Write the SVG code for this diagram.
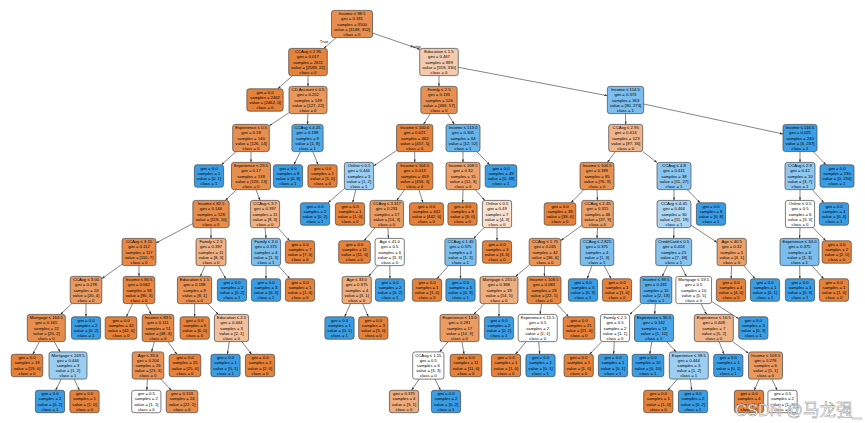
<svg xmlns="http://www.w3.org/2000/svg" width="865" height="423" viewBox="0 0 865 423">
<style>
.nd rect{stroke:#454545;stroke-width:0.7}
text{font-family:"Liberation Sans",Arial,Helvetica,sans-serif;font-size:4.24px;text-anchor:middle;fill:#000}
#edges line{stroke:#333;stroke-width:0.6;marker-end:url(#ah)}
.lbl{font-size:4.24px}
.wm{font-family:"Liberation Sans","Noto Sans CJK SC",sans-serif;font-size:16.5px;text-anchor:start;fill:#ffffff;fill-opacity:0.85;stroke:#8a8a8a;stroke-width:0.45}
</style>
<defs>
<marker id="ah" viewBox="0 0 10 7" refX="10" refY="3.5" markerWidth="3" markerHeight="2.1" markerUnits="userSpaceOnUse" orient="auto"><path d="M0,0L10,3.5L0,7z" fill="#333"/></marker>
</defs>
<rect width="865" height="423" fill="#ffffff"/>
<g id="edges">
<line x1="336.25" y1="37.6" x2="323.75" y2="48.4"/>
<line x1="372.5" y1="33" x2="420.2" y2="49.4"/>
<line x1="292.6" y1="75.6" x2="277.7" y2="88.8"/>
<line x1="308" y1="75.6" x2="308" y2="86.4"/>
<line x1="439" y1="75.6" x2="439" y2="86.4"/>
<line x1="458.3" y1="67.3" x2="607.35" y2="95.7"/>
<line x1="289" y1="112.7" x2="269.3" y2="125.8"/>
<line x1="307.9" y1="113.6" x2="307.5" y2="124.4"/>
<line x1="430.3" y1="113.6" x2="423.4" y2="124.4"/>
<line x1="447.6" y1="113.6" x2="454.4" y2="124.4"/>
<line x1="625.5" y1="113.6" x2="625.7" y2="124.4"/>
<line x1="643.65" y1="104" x2="783" y2="134"/>
<line x1="236" y1="151.6" x2="221.4" y2="164.8"/>
<line x1="251" y1="151.6" x2="251" y2="162.4"/>
<line x1="300.5" y1="151.6" x2="293.75" y2="164.8"/>
<line x1="312.9" y1="151.6" x2="318.1" y2="164.8"/>
<line x1="396.55" y1="150.4" x2="373.6" y2="166"/>
<line x1="414.7" y1="151.6" x2="414.7" y2="162.4"/>
<line x1="463" y1="151.6" x2="463" y2="162.4"/>
<line x1="476.6" y1="151.6" x2="489.8" y2="164.8"/>
<line x1="615.4" y1="151.6" x2="607.3" y2="162.4"/>
<line x1="642.7" y1="151.4" x2="657" y2="162.6"/>
<line x1="800" y1="151.6" x2="800" y2="162.4"/>
<line x1="813.2" y1="151.6" x2="826.1" y2="164.8"/>
<line x1="236.7" y1="189.6" x2="225.3" y2="200.4"/>
<line x1="256" y1="189.6" x2="260" y2="200.4"/>
<line x1="344.4" y1="188.6" x2="328" y2="202.8"/>
<line x1="355.8" y1="189.6" x2="352.65" y2="202.8"/>
<line x1="404.7" y1="189.6" x2="396.7" y2="200.4"/>
<line x1="418.9" y1="189.6" x2="423" y2="202.8"/>
<line x1="463" y1="189.6" x2="462.6" y2="202.8"/>
<line x1="475.2" y1="189.6" x2="484.8" y2="200.4"/>
<line x1="583.8" y1="189.6" x2="570.9" y2="202.8"/>
<line x1="597" y1="189.6" x2="597.5" y2="200.4"/>
<line x1="674" y1="189.6" x2="674" y2="200.4"/>
<line x1="687.2" y1="189.6" x2="700.1" y2="202.8"/>
<line x1="800" y1="189.6" x2="800" y2="200.4"/>
<line x1="812.2" y1="189.6" x2="824" y2="202.8"/>
<line x1="192.85" y1="223.6" x2="156" y2="243"/>
<line x1="211" y1="227.6" x2="211" y2="238.4"/>
<line x1="265" y1="227.6" x2="266" y2="238.4"/>
<line x1="277.5" y1="227.6" x2="289.7" y2="240.8"/>
<line x1="375.2" y1="227.6" x2="364" y2="240.8"/>
<line x1="387.8" y1="227.6" x2="388.6" y2="238.4"/>
<line x1="484" y1="227.6" x2="473.6" y2="238.4"/>
<line x1="497" y1="227.6" x2="497" y2="240.8"/>
<line x1="581.7" y1="225.4" x2="560.8" y2="240.6"/>
<line x1="597.5" y1="227.6" x2="597" y2="238.4"/>
<line x1="674" y1="227.6" x2="673.7" y2="238.4"/>
<line x1="691" y1="225.2" x2="717.1" y2="242.4"/>
<line x1="800" y1="227.6" x2="799.5" y2="238.4"/>
<line x1="813.1" y1="227.6" x2="825.9" y2="240.8"/>
<line x1="122.05" y1="264.2" x2="101.8" y2="278.7"/>
<line x1="139" y1="265.6" x2="139" y2="276.4"/>
<line x1="205.1" y1="265.6" x2="200.4" y2="276.4"/>
<line x1="218.5" y1="265.6" x2="225.8" y2="278.8"/>
<line x1="266" y1="265.6" x2="266" y2="278.8"/>
<line x1="278.2" y1="265.6" x2="290" y2="278.8"/>
<line x1="377.9" y1="265.6" x2="368.5" y2="276.4"/>
<line x1="389.8" y1="265.6" x2="390" y2="278.8"/>
<line x1="448.5" y1="265.6" x2="436.9" y2="278.8"/>
<line x1="460.5" y1="265.6" x2="460.5" y2="278.8"/>
<line x1="529.2" y1="265.05" x2="515.5" y2="276.4"/>
<line x1="544.6" y1="265.6" x2="544.4" y2="276.4"/>
<line x1="592" y1="265.6" x2="587.1" y2="278.8"/>
<line x1="604.2" y1="265.6" x2="611.1" y2="278.8"/>
<line x1="667.4" y1="265.6" x2="662.3" y2="276.4"/>
<line x1="680.9" y1="265.6" x2="686.5" y2="276.4"/>
<line x1="731.5" y1="265.6" x2="731.2" y2="278.8"/>
<line x1="743.6" y1="265.6" x2="755.2" y2="278.8"/>
<line x1="799.7" y1="265.6" x2="799.9" y2="278.8"/>
<line x1="811.8" y1="265.6" x2="823.8" y2="278.8"/>
<line x1="71.8" y1="303.6" x2="60.5" y2="314.4"/>
<line x1="86" y1="303.6" x2="86" y2="316.8"/>
<line x1="132.6" y1="303.6" x2="126.3" y2="316.8"/>
<line x1="145.8" y1="303.6" x2="151.2" y2="314.4"/>
<line x1="194.6" y1="303.6" x2="194.7" y2="316.8"/>
<line x1="207.7" y1="303.6" x2="218.3" y2="314.4"/>
<line x1="350.5" y1="303.6" x2="344.6" y2="316.8"/>
<line x1="362.6" y1="303.6" x2="368.4" y2="316.8"/>
<line x1="484.9" y1="303.6" x2="473.6" y2="314.4"/>
<line x1="499" y1="303.6" x2="499" y2="316.8"/>
<line x1="541.7" y1="303.6" x2="540" y2="314.4"/>
<line x1="556.5" y1="303.6" x2="568.7" y2="316.8"/>
<line x1="641.3" y1="303.6" x2="629.6" y2="314.6"/>
<line x1="655.3" y1="303.6" x2="654.7" y2="314.4"/>
<line x1="700.9" y1="303.6" x2="706.6" y2="314.4"/>
<line x1="711.55" y1="301.4" x2="738.7" y2="318.7"/>
<line x1="39.3" y1="341.6" x2="32.8" y2="354.3"/>
<line x1="54.2" y1="341.6" x2="60.1" y2="351.9"/>
<line x1="154.4" y1="341.6" x2="151.6" y2="351.9"/>
<line x1="167.8" y1="341.6" x2="176.9" y2="354.3"/>
<line x1="229.3" y1="341.6" x2="227.3" y2="354.3"/>
<line x1="241.8" y1="341.6" x2="251.5" y2="354.3"/>
<line x1="448.2" y1="341.6" x2="439.6" y2="351.9"/>
<line x1="461.9" y1="341.6" x2="464.1" y2="354.3"/>
<line x1="526.2" y1="341.6" x2="515.5" y2="354.3"/>
<line x1="538.7" y1="341.6" x2="539.7" y2="354.3"/>
<line x1="601.8" y1="341.6" x2="589.5" y2="354.3"/>
<line x1="614.3" y1="341.6" x2="613.6" y2="354.3"/>
<line x1="651.8" y1="341.6" x2="649.8" y2="354.3"/>
<line x1="666.6" y1="341.6" x2="676.2" y2="351.9"/>
<line x1="719.1" y1="341.6" x2="724" y2="354.3"/>
<line x1="732.55" y1="341.6" x2="748.5" y2="353.2"/>
<line x1="61.2" y1="379.1" x2="55.6" y2="390.3"/>
<line x1="74.2" y1="379.1" x2="79.4" y2="390.3"/>
<line x1="147.4" y1="379.1" x2="146.8" y2="390.3"/>
<line x1="160.8" y1="379.1" x2="171.4" y2="390.3"/>
<line x1="419.1" y1="379.1" x2="411.6" y2="390.3"/>
<line x1="435" y1="379.1" x2="440.5" y2="390.3"/>
<line x1="677.3" y1="379.1" x2="667.8" y2="390.3"/>
<line x1="690.4" y1="379.1" x2="691.7" y2="390.3"/>
<line x1="759.3" y1="379.1" x2="754.1" y2="390.3"/>
<line x1="771.9" y1="379.1" x2="777.2" y2="390.3"/>
<text class="lbl" x="324" y="42.8">True</text>
<text class="lbl" x="415.7" y="48">False</text>
</g>
<g id="nodes">
<g id="n0" class="nd" transform="translate(352,24)"><rect x="-20.5" y="-13.6" width="41" height="27.2" rx="2.5" fill="#e88f4f"/><text y="-8.6"><tspan x="0">Income ≤ 98.5</tspan><tspan x="0" dy="5.05">gini = 0.181</tspan><tspan x="0" dy="5.05">samples = 3500</tspan><tspan x="0" dy="5.05">value = [3148, 352]</tspan><tspan x="0" dy="5.05">class = 0</tspan></text></g>
<g id="n1" class="nd" transform="translate(308,62)"><rect x="-19.3" y="-13.6" width="38.6" height="27.2" rx="2.5" fill="#e5823b"/><text y="-8.6"><tspan x="0">CCAvg ≤ 2.95</tspan><tspan x="0" dy="5.05">gini = 0.017</tspan><tspan x="0" dy="5.05">samples = 2611</tspan><tspan x="0" dy="5.05">value = [2589, 22]</tspan><tspan x="0" dy="5.05">class = 0</tspan></text></g>
<g id="n2" class="nd" transform="translate(439,62)"><rect x="-19.3" y="-13.6" width="38.6" height="27.2" rx="2.5" fill="#f4cbae"/><text y="-8.6"><tspan x="0">Education ≤ 1.5</tspan><tspan x="0" dy="5.05">gini = 0.467</tspan><tspan x="0" dy="5.05">samples = 889</tspan><tspan x="0" dy="5.05">value = [559, 330]</tspan><tspan x="0" dy="5.05">class = 0</tspan></text></g>
<g id="n3" class="nd" transform="translate(265,100)"><rect x="-18.15" y="-11.2" width="36.3" height="22.4" rx="2.5" fill="#e58139"/><text y="-6.1"><tspan x="0">gini = 0.0</tspan><tspan x="0" dy="5.05">samples = 2462</tspan><tspan x="0" dy="5.05">value = [2462, 0]</tspan><tspan x="0" dy="5.05">class = 0</tspan></text></g>
<g id="n4" class="nd" transform="translate(308,100)"><rect x="-19" y="-13.6" width="38" height="27.2" rx="2.5" fill="#e9975b"/><text y="-8.6"><tspan x="0">CD Account ≤ 0.5</tspan><tspan x="0" dy="5.05">gini = 0.252</tspan><tspan x="0" dy="5.05">samples = 149</tspan><tspan x="0" dy="5.05">value = [127, 22]</tspan><tspan x="0" dy="5.05">class = 0</tspan></text></g>
<g id="n5" class="nd" transform="translate(439,100)"><rect x="-18.15" y="-13.6" width="36.3" height="27.2" rx="2.5" fill="#e89051"/><text y="-8.6"><tspan x="0">Family ≤ 2.5</tspan><tspan x="0" dy="5.05">gini = 0.193</tspan><tspan x="0" dy="5.05">samples = 526</tspan><tspan x="0" dy="5.05">value = [469, 57]</tspan><tspan x="0" dy="5.05">class = 0</tspan></text></g>
<g id="n6" class="nd" transform="translate(625.5,100)"><rect x="-18.15" y="-13.6" width="36.3" height="27.2" rx="2.5" fill="#7abdee"/><text y="-8.6"><tspan x="0">Income ≤ 114.5</tspan><tspan x="0" dy="5.05">gini = 0.373</tspan><tspan x="0" dy="5.05">samples = 363</tspan><tspan x="0" dy="5.05">value = [90, 273]</tspan><tspan x="0" dy="5.05">class = 1</tspan></text></g>
<g id="n7" class="nd" transform="translate(251,138)"><rect x="-18.3" y="-13.6" width="36.6" height="27.2" rx="2.5" fill="#e88f4f"/><text y="-8.6"><tspan x="0">Experience ≤ 0.5</tspan><tspan x="0" dy="5.05">gini = 0.18</tspan><tspan x="0" dy="5.05">samples = 140</tspan><tspan x="0" dy="5.05">value = [126, 14]</tspan><tspan x="0" dy="5.05">class = 0</tspan></text></g>
<g id="n8" class="nd" transform="translate(307.5,138)"><rect x="-15.6" y="-13.6" width="31.2" height="27.2" rx="2.5" fill="#52a9e8"/><text y="-8.6"><tspan x="0">CCAvg ≤ 4.25</tspan><tspan x="0" dy="5.05">gini = 0.198</tspan><tspan x="0" dy="5.05">samples = 9</tspan><tspan x="0" dy="5.05">value = [1, 8]</tspan><tspan x="0" dy="5.05">class = 1</tspan></text></g>
<g id="n9" class="nd" transform="translate(414.7,138)"><rect x="-18.15" y="-13.6" width="36.3" height="27.2" rx="2.5" fill="#e5823b"/><text y="-8.6"><tspan x="0">Income ≤ 100.0</tspan><tspan x="0" dy="5.05">gini = 0.021</tspan><tspan x="0" dy="5.05">samples = 462</tspan><tspan x="0" dy="5.05">value = [457, 5]</tspan><tspan x="0" dy="5.05">class = 0</tspan></text></g>
<g id="n10" class="nd" transform="translate(463,138)"><rect x="-17" y="-13.6" width="34" height="27.2" rx="2.5" fill="#67b4eb"/><text y="-8.6"><tspan x="0">Income ≤ 113.0</tspan><tspan x="0" dy="5.05">gini = 0.305</tspan><tspan x="0" dy="5.05">samples = 64</tspan><tspan x="0" dy="5.05">value = [12, 52]</tspan><tspan x="0" dy="5.05">class = 1</tspan></text></g>
<g id="n11" class="nd" transform="translate(625.7,138)"><rect x="-17" y="-13.6" width="34" height="27.2" rx="2.5" fill="#f0b58b"/><text y="-8.6"><tspan x="0">CCAvg ≤ 2.95</tspan><tspan x="0" dy="5.05">gini = 0.414</tspan><tspan x="0" dy="5.05">samples = 123</tspan><tspan x="0" dy="5.05">value = [87, 36]</tspan><tspan x="0" dy="5.05">class = 0</tspan></text></g>
<g id="n12" class="nd" transform="translate(800,138)"><rect x="-17" y="-13.6" width="34" height="27.2" rx="2.5" fill="#3c9ee5"/><text y="-8.6"><tspan x="0">Income ≤ 116.5</tspan><tspan x="0" dy="5.05">gini = 0.025</tspan><tspan x="0" dy="5.05">samples = 240</tspan><tspan x="0" dy="5.05">value = [3, 237]</tspan><tspan x="0" dy="5.05">class = 1</tspan></text></g>
<g id="n13" class="nd" transform="translate(209,176)"><rect x="-14.6" y="-11.2" width="29.2" height="22.4" rx="2.5" fill="#399de5"/><text y="-6.1"><tspan x="0">gini = 0.0</tspan><tspan x="0" dy="5.05">samples = 1</tspan><tspan x="0" dy="5.05">value = [0, 1]</tspan><tspan x="0" dy="5.05">class = 1</tspan></text></g>
<g id="n14" class="nd" transform="translate(251,176)"><rect x="-19.5" y="-13.6" width="39" height="27.2" rx="2.5" fill="#e88e4d"/><text y="-8.6"><tspan x="0">Experience ≤ 23.5</tspan><tspan x="0" dy="5.05">gini = 0.17</tspan><tspan x="0" dy="5.05">samples = 139</tspan><tspan x="0" dy="5.05">value = [126, 13]</tspan><tspan x="0" dy="5.05">class = 0</tspan></text></g>
<g id="n15" class="nd" transform="translate(288,176)"><rect x="-14.6" y="-11.2" width="29.2" height="22.4" rx="2.5" fill="#399de5"/><text y="-6.1"><tspan x="0">gini = 0.0</tspan><tspan x="0" dy="5.05">samples = 8</tspan><tspan x="0" dy="5.05">value = [0, 8]</tspan><tspan x="0" dy="5.05">class = 1</tspan></text></g>
<g id="n16" class="nd" transform="translate(322.5,176)"><rect x="-14.6" y="-11.2" width="29.2" height="22.4" rx="2.5" fill="#e58139"/><text y="-6.1"><tspan x="0">gini = 0.0</tspan><tspan x="0" dy="5.05">samples = 1</tspan><tspan x="0" dy="5.05">value = [1, 0]</tspan><tspan x="0" dy="5.05">class = 0</tspan></text></g>
<g id="n17" class="nd" transform="translate(359,176)"><rect x="-14.6" y="-13.6" width="29.2" height="27.2" rx="2.5" fill="#9ccef2"/><text y="-8.6"><tspan x="0">Online ≤ 0.5</tspan><tspan x="0" dy="5.05">gini = 0.444</tspan><tspan x="0" dy="5.05">samples = 3</tspan><tspan x="0" dy="5.05">value = [1, 2]</tspan><tspan x="0" dy="5.05">class = 1</tspan></text></g>
<g id="n18" class="nd" transform="translate(414.7,176)"><rect x="-18.15" y="-13.6" width="36.3" height="27.2" rx="2.5" fill="#e5823a"/><text y="-8.6"><tspan x="0">Income ≤ 104.5</tspan><tspan x="0" dy="5.05">gini = 0.013</tspan><tspan x="0" dy="5.05">samples = 459</tspan><tspan x="0" dy="5.05">value = [456, 3]</tspan><tspan x="0" dy="5.05">class = 0</tspan></text></g>
<g id="n19" class="nd" transform="translate(463,176)"><rect x="-17" y="-13.6" width="34" height="27.2" rx="2.5" fill="#eca06a"/><text y="-8.6"><tspan x="0">Income ≤ 108.5</tspan><tspan x="0" dy="5.05">gini = 0.32</tspan><tspan x="0" dy="5.05">samples = 15</tspan><tspan x="0" dy="5.05">value = [12, 3]</tspan><tspan x="0" dy="5.05">class = 0</tspan></text></g>
<g id="n20" class="nd" transform="translate(501,176)"><rect x="-15.8" y="-11.2" width="31.6" height="22.4" rx="2.5" fill="#399de5"/><text y="-6.1"><tspan x="0">gini = 0.0</tspan><tspan x="0" dy="5.05">samples = 49</tspan><tspan x="0" dy="5.05">value = [0, 49]</tspan><tspan x="0" dy="5.05">class = 1</tspan></text></g>
<g id="n21" class="nd" transform="translate(597,176)"><rect x="-17" y="-13.6" width="34" height="27.2" rx="2.5" fill="#e89050"/><text y="-8.6"><tspan x="0">Income ≤ 106.5</tspan><tspan x="0" dy="5.05">gini = 0.189</tspan><tspan x="0" dy="5.05">samples = 85</tspan><tspan x="0" dy="5.05">value = [76, 9]</tspan><tspan x="0" dy="5.05">class = 0</tspan></text></g>
<g id="n22" class="nd" transform="translate(674,176)"><rect x="-17" y="-13.6" width="34" height="27.2" rx="2.5" fill="#8ac5f0"/><text y="-8.6"><tspan x="0">CCAvg ≤ 4.8</tspan><tspan x="0" dy="5.05">gini = 0.411</tspan><tspan x="0" dy="5.05">samples = 38</tspan><tspan x="0" dy="5.05">value = [11, 27]</tspan><tspan x="0" dy="5.05">class = 1</tspan></text></g>
<g id="n23" class="nd" transform="translate(800,176)"><rect x="-15" y="-13.6" width="30" height="27.2" rx="2.5" fill="#8ec7f0"/><text y="-8.6"><tspan x="0">CCAvg ≤ 2.9</tspan><tspan x="0" dy="5.05">gini = 0.42</tspan><tspan x="0" dy="5.05">samples = 10</tspan><tspan x="0" dy="5.05">value = [3, 7]</tspan><tspan x="0" dy="5.05">class = 1</tspan></text></g>
<g id="n24" class="nd" transform="translate(837,176)"><rect x="-17" y="-11.2" width="34" height="22.4" rx="2.5" fill="#399de5"/><text y="-6.1"><tspan x="0">gini = 0.0</tspan><tspan x="0" dy="5.05">samples = 230</tspan><tspan x="0" dy="5.05">value = [0, 230]</tspan><tspan x="0" dy="5.05">class = 1</tspan></text></g>
<g id="n25" class="nd" transform="translate(211,214)"><rect x="-18.15" y="-13.6" width="36.3" height="27.2" rx="2.5" fill="#e78c4a"/><text y="-8.6"><tspan x="0">Income ≤ 82.5</tspan><tspan x="0" dy="5.05">gini = 0.144</tspan><tspan x="0" dy="5.05">samples = 128</tspan><tspan x="0" dy="5.05">value = [118, 10]</tspan><tspan x="0" dy="5.05">class = 0</tspan></text></g>
<g id="n26" class="nd" transform="translate(265,214)"><rect x="-14.6" y="-13.6" width="29.2" height="27.2" rx="2.5" fill="#efb083"/><text y="-8.6"><tspan x="0">CCAvg ≤ 3.7</tspan><tspan x="0" dy="5.05">gini = 0.397</tspan><tspan x="0" dy="5.05">samples = 11</tspan><tspan x="0" dy="5.05">value = [8, 3]</tspan><tspan x="0" dy="5.05">class = 0</tspan></text></g>
<g id="n27" class="nd" transform="translate(315,214)"><rect x="-14.6" y="-11.2" width="29.2" height="22.4" rx="2.5" fill="#399de5"/><text y="-6.1"><tspan x="0">gini = 0.0</tspan><tspan x="0" dy="5.05">samples = 2</tspan><tspan x="0" dy="5.05">value = [0, 2]</tspan><tspan x="0" dy="5.05">class = 1</tspan></text></g>
<g id="n28" class="nd" transform="translate(350,214)"><rect x="-14.6" y="-11.2" width="29.2" height="22.4" rx="2.5" fill="#e58139"/><text y="-6.1"><tspan x="0">gini = 0.0</tspan><tspan x="0" dy="5.05">samples = 1</tspan><tspan x="0" dy="5.05">value = [1, 0]</tspan><tspan x="0" dy="5.05">class = 0</tspan></text></g>
<g id="n29" class="nd" transform="translate(386.7,214)"><rect x="-16.75" y="-13.6" width="33.5" height="27.2" rx="2.5" fill="#eb9c63"/><text y="-8.6"><tspan x="0">CCAvg ≤ 3.317</tspan><tspan x="0" dy="5.05">gini = 0.291</tspan><tspan x="0" dy="5.05">samples = 17</tspan><tspan x="0" dy="5.05">value = [14, 3]</tspan><tspan x="0" dy="5.05">class = 0</tspan></text></g>
<g id="n30" class="nd" transform="translate(426.5,214)"><rect x="-16.95" y="-11.2" width="33.9" height="22.4" rx="2.5" fill="#e58139"/><text y="-6.1"><tspan x="0">gini = 0.0</tspan><tspan x="0" dy="5.05">samples = 442</tspan><tspan x="0" dy="5.05">value = [442, 0]</tspan><tspan x="0" dy="5.05">class = 0</tspan></text></g>
<g id="n31" class="nd" transform="translate(462.5,214)"><rect x="-14.6" y="-11.2" width="29.2" height="22.4" rx="2.5" fill="#e58139"/><text y="-6.1"><tspan x="0">gini = 0.0</tspan><tspan x="0" dy="5.05">samples = 8</tspan><tspan x="0" dy="5.05">value = [8, 0]</tspan><tspan x="0" dy="5.05">class = 0</tspan></text></g>
<g id="n32" class="nd" transform="translate(497,214)"><rect x="-14.6" y="-13.6" width="29.2" height="27.2" rx="2.5" fill="#f8e0ce"/><text y="-8.6"><tspan x="0">Online ≤ 0.5</tspan><tspan x="0" dy="5.05">gini = 0.49</tspan><tspan x="0" dy="5.05">samples = 7</tspan><tspan x="0" dy="5.05">value = [4, 3]</tspan><tspan x="0" dy="5.05">class = 0</tspan></text></g>
<g id="n33" class="nd" transform="translate(560,214)"><rect x="-15.8" y="-11.2" width="31.6" height="22.4" rx="2.5" fill="#e58139"/><text y="-6.1"><tspan x="0">gini = 0.0</tspan><tspan x="0" dy="5.05">samples = 39</tspan><tspan x="0" dy="5.05">value = [39, 0]</tspan><tspan x="0" dy="5.05">class = 0</tspan></text></g>
<g id="n34" class="nd" transform="translate(597.5,214)"><rect x="-15.8" y="-13.6" width="31.6" height="27.2" rx="2.5" fill="#eb9f69"/><text y="-8.6"><tspan x="0">CCAvg ≤ 2.45</tspan><tspan x="0" dy="5.05">gini = 0.315</tspan><tspan x="0" dy="5.05">samples = 46</tspan><tspan x="0" dy="5.05">value = [37, 9]</tspan><tspan x="0" dy="5.05">class = 0</tspan></text></g>
<g id="n35" class="nd" transform="translate(674,214)"><rect x="-16.95" y="-13.6" width="33.9" height="27.2" rx="2.5" fill="#acd6f4"/><text y="-8.6"><tspan x="0">CCAvg ≤ 4.45</tspan><tspan x="0" dy="5.05">gini = 0.464</tspan><tspan x="0" dy="5.05">samples = 30</tspan><tspan x="0" dy="5.05">value = [11, 19]</tspan><tspan x="0" dy="5.05">class = 1</tspan></text></g>
<g id="n36" class="nd" transform="translate(711,214)"><rect x="-14.6" y="-11.2" width="29.2" height="22.4" rx="2.5" fill="#399de5"/><text y="-6.1"><tspan x="0">gini = 0.0</tspan><tspan x="0" dy="5.05">samples = 8</tspan><tspan x="0" dy="5.05">value = [0, 8]</tspan><tspan x="0" dy="5.05">class = 1</tspan></text></g>
<g id="n37" class="nd" transform="translate(800,214)"><rect x="-14.6" y="-13.6" width="29.2" height="27.2" rx="2.5" fill="#ffffff"/><text y="-8.6"><tspan x="0">Online ≤ 0.5</tspan><tspan x="0" dy="5.05">gini = 0.5</tspan><tspan x="0" dy="5.05">samples = 6</tspan><tspan x="0" dy="5.05">value = [3, 3]</tspan><tspan x="0" dy="5.05">class = 0</tspan></text></g>
<g id="n38" class="nd" transform="translate(834,214)"><rect x="-14.6" y="-11.2" width="29.2" height="22.4" rx="2.5" fill="#399de5"/><text y="-6.1"><tspan x="0">gini = 0.0</tspan><tspan x="0" dy="5.05">samples = 4</tspan><tspan x="0" dy="5.05">value = [0, 4]</tspan><tspan x="0" dy="5.05">class = 1</tspan></text></g>
<g id="n39" class="nd" transform="translate(139,252)"><rect x="-16.95" y="-13.6" width="33.9" height="27.2" rx="2.5" fill="#e78946"/><text y="-8.6"><tspan x="0">CCAvg ≤ 3.15</tspan><tspan x="0" dy="5.05">gini = 0.112</tspan><tspan x="0" dy="5.05">samples = 117</tspan><tspan x="0" dy="5.05">value = [110, 7]</tspan><tspan x="0" dy="5.05">class = 0</tspan></text></g>
<g id="n40" class="nd" transform="translate(211,252)"><rect x="-15" y="-13.6" width="30" height="27.2" rx="2.5" fill="#efb083"/><text y="-8.6"><tspan x="0">Family ≤ 2.5</tspan><tspan x="0" dy="5.05">gini = 0.397</tspan><tspan x="0" dy="5.05">samples = 11</tspan><tspan x="0" dy="5.05">value = [8, 3]</tspan><tspan x="0" dy="5.05">class = 0</tspan></text></g>
<g id="n41" class="nd" transform="translate(266,252)"><rect x="-14.6" y="-13.6" width="29.2" height="27.2" rx="2.5" fill="#7bbeee"/><text y="-8.6"><tspan x="0">Family ≤ 3.0</tspan><tspan x="0" dy="5.05">gini = 0.375</tspan><tspan x="0" dy="5.05">samples = 4</tspan><tspan x="0" dy="5.05">value = [1, 3]</tspan><tspan x="0" dy="5.05">class = 1</tspan></text></g>
<g id="n42" class="nd" transform="translate(300,252)"><rect x="-14.6" y="-11.2" width="29.2" height="22.4" rx="2.5" fill="#e58139"/><text y="-6.1"><tspan x="0">gini = 0.0</tspan><tspan x="0" dy="5.05">samples = 7</tspan><tspan x="0" dy="5.05">value = [7, 0]</tspan><tspan x="0" dy="5.05">class = 0</tspan></text></g>
<g id="n43" class="nd" transform="translate(354.5,252)"><rect x="-15.8" y="-11.2" width="31.6" height="22.4" rx="2.5" fill="#e58139"/><text y="-6.1"><tspan x="0">gini = 0.0</tspan><tspan x="0" dy="5.05">samples = 11</tspan><tspan x="0" dy="5.05">value = [11, 0]</tspan><tspan x="0" dy="5.05">class = 0</tspan></text></g>
<g id="n44" class="nd" transform="translate(389.7,252)"><rect x="-14.6" y="-13.6" width="29.2" height="27.2" rx="2.5" fill="#ffffff"/><text y="-8.6"><tspan x="0">Age ≤ 41.0</tspan><tspan x="0" dy="5.05">gini = 0.5</tspan><tspan x="0" dy="5.05">samples = 6</tspan><tspan x="0" dy="5.05">value = [3, 3]</tspan><tspan x="0" dy="5.05">class = 0</tspan></text></g>
<g id="n45" class="nd" transform="translate(460.5,252)"><rect x="-15.6" y="-13.6" width="31.2" height="27.2" rx="2.5" fill="#7bbeee"/><text y="-8.6"><tspan x="0">CCAvg ≤ 1.45</tspan><tspan x="0" dy="5.05">gini = 0.375</tspan><tspan x="0" dy="5.05">samples = 4</tspan><tspan x="0" dy="5.05">value = [1, 3]</tspan><tspan x="0" dy="5.05">class = 1</tspan></text></g>
<g id="n46" class="nd" transform="translate(497,252)"><rect x="-14.6" y="-11.2" width="29.2" height="22.4" rx="2.5" fill="#e58139"/><text y="-6.1"><tspan x="0">gini = 0.0</tspan><tspan x="0" dy="5.05">samples = 3</tspan><tspan x="0" dy="5.05">value = [3, 0]</tspan><tspan x="0" dy="5.05">class = 0</tspan></text></g>
<g id="n47" class="nd" transform="translate(545,252)"><rect x="-15.8" y="-13.6" width="31.6" height="27.2" rx="2.5" fill="#e9965a"/><text y="-8.6"><tspan x="0">CCAvg ≤ 1.75</tspan><tspan x="0" dy="5.05">gini = 0.245</tspan><tspan x="0" dy="5.05">samples = 42</tspan><tspan x="0" dy="5.05">value = [36, 6]</tspan><tspan x="0" dy="5.05">class = 0</tspan></text></g>
<g id="n48" class="nd" transform="translate(597,252)"><rect x="-16.75" y="-13.6" width="33.5" height="27.2" rx="2.5" fill="#7bbeee"/><text y="-8.6"><tspan x="0">CCAvg ≤ 2.825</tspan><tspan x="0" dy="5.05">gini = 0.375</tspan><tspan x="0" dy="5.05">samples = 4</tspan><tspan x="0" dy="5.05">value = [1, 3]</tspan><tspan x="0" dy="5.05">class = 1</tspan></text></g>
<g id="n49" class="nd" transform="translate(673.7,252)"><rect x="-17.95" y="-13.6" width="35.9" height="27.2" rx="2.5" fill="#86c3ef"/><text y="-8.6"><tspan x="0">CreditCard ≤ 0.5</tspan><tspan x="0" dy="5.05">gini = 0.403</tspan><tspan x="0" dy="5.05">samples = 25</tspan><tspan x="0" dy="5.05">value = [7, 18]</tspan><tspan x="0" dy="5.05">class = 1</tspan></text></g>
<g id="n50" class="nd" transform="translate(731.7,252)"><rect x="-14.6" y="-13.6" width="29.2" height="27.2" rx="2.5" fill="#eca06a"/><text y="-8.6"><tspan x="0">Age ≤ 40.5</tspan><tspan x="0" dy="5.05">gini = 0.32</tspan><tspan x="0" dy="5.05">samples = 5</tspan><tspan x="0" dy="5.05">value = [4, 1]</tspan><tspan x="0" dy="5.05">class = 0</tspan></text></g>
<g id="n51" class="nd" transform="translate(799.5,252)"><rect x="-19.5" y="-13.6" width="39" height="27.2" rx="2.5" fill="#7bbeee"/><text y="-8.6"><tspan x="0">Experience ≤ 34.0</tspan><tspan x="0" dy="5.05">gini = 0.375</tspan><tspan x="0" dy="5.05">samples = 4</tspan><tspan x="0" dy="5.05">value = [1, 3]</tspan><tspan x="0" dy="5.05">class = 1</tspan></text></g>
<g id="n52" class="nd" transform="translate(836.7,252)"><rect x="-14.6" y="-11.2" width="29.2" height="22.4" rx="2.5" fill="#e58139"/><text y="-6.1"><tspan x="0">gini = 0.0</tspan><tspan x="0" dy="5.05">samples = 2</tspan><tspan x="0" dy="5.05">value = [2, 0]</tspan><tspan x="0" dy="5.05">class = 0</tspan></text></g>
<g id="n53" class="nd" transform="translate(86,290)"><rect x="-15.8" y="-13.6" width="31.6" height="27.2" rx="2.5" fill="#ea9a61"/><text y="-8.6"><tspan x="0">CCAvg ≤ 3.05</tspan><tspan x="0" dy="5.05">gini = 0.278</tspan><tspan x="0" dy="5.05">samples = 24</tspan><tspan x="0" dy="5.05">value = [20, 4]</tspan><tspan x="0" dy="5.05">class = 0</tspan></text></g>
<g id="n54" class="nd" transform="translate(139,290)"><rect x="-15.8" y="-13.6" width="31.6" height="27.2" rx="2.5" fill="#e68540"/><text y="-8.6"><tspan x="0">Income ≤ 80.5</tspan><tspan x="0" dy="5.05">gini = 0.062</tspan><tspan x="0" dy="5.05">samples = 93</tspan><tspan x="0" dy="5.05">value = [90, 3]</tspan><tspan x="0" dy="5.05">class = 0</tspan></text></g>
<g id="n55" class="nd" transform="translate(194.5,290)"><rect x="-17.1" y="-13.6" width="34.2" height="27.2" rx="2.5" fill="#e89152"/><text y="-8.6"><tspan x="0">Education ≤ 1.5</tspan><tspan x="0" dy="5.05">gini = 0.198</tspan><tspan x="0" dy="5.05">samples = 9</tspan><tspan x="0" dy="5.05">value = [8, 1]</tspan><tspan x="0" dy="5.05">class = 0</tspan></text></g>
<g id="n56" class="nd" transform="translate(232,290)"><rect x="-14.6" y="-11.2" width="29.2" height="22.4" rx="2.5" fill="#399de5"/><text y="-6.1"><tspan x="0">gini = 0.0</tspan><tspan x="0" dy="5.05">samples = 2</tspan><tspan x="0" dy="5.05">value = [0, 2]</tspan><tspan x="0" dy="5.05">class = 1</tspan></text></g>
<g id="n57" class="nd" transform="translate(266,290)"><rect x="-14.6" y="-11.2" width="29.2" height="22.4" rx="2.5" fill="#399de5"/><text y="-6.1"><tspan x="0">gini = 0.0</tspan><tspan x="0" dy="5.05">samples = 3</tspan><tspan x="0" dy="5.05">value = [0, 3]</tspan><tspan x="0" dy="5.05">class = 1</tspan></text></g>
<g id="n58" class="nd" transform="translate(300,290)"><rect x="-14.6" y="-11.2" width="29.2" height="22.4" rx="2.5" fill="#e58139"/><text y="-6.1"><tspan x="0">gini = 0.0</tspan><tspan x="0" dy="5.05">samples = 1</tspan><tspan x="0" dy="5.05">value = [1, 0]</tspan><tspan x="0" dy="5.05">class = 0</tspan></text></g>
<g id="n59" class="nd" transform="translate(356.7,290)"><rect x="-14.6" y="-13.6" width="29.2" height="27.2" rx="2.5" fill="#eeab7b"/><text y="-8.6"><tspan x="0">Age ≤ 33.0</tspan><tspan x="0" dy="5.05">gini = 0.375</tspan><tspan x="0" dy="5.05">samples = 4</tspan><tspan x="0" dy="5.05">value = [3, 1]</tspan><tspan x="0" dy="5.05">class = 0</tspan></text></g>
<g id="n60" class="nd" transform="translate(390,290)"><rect x="-14.6" y="-11.2" width="29.2" height="22.4" rx="2.5" fill="#399de5"/><text y="-6.1"><tspan x="0">gini = 0.0</tspan><tspan x="0" dy="5.05">samples = 2</tspan><tspan x="0" dy="5.05">value = [0, 2]</tspan><tspan x="0" dy="5.05">class = 1</tspan></text></g>
<g id="n61" class="nd" transform="translate(427,290)"><rect x="-14.6" y="-11.2" width="29.2" height="22.4" rx="2.5" fill="#e58139"/><text y="-6.1"><tspan x="0">gini = 0.0</tspan><tspan x="0" dy="5.05">samples = 1</tspan><tspan x="0" dy="5.05">value = [1, 0]</tspan><tspan x="0" dy="5.05">class = 0</tspan></text></g>
<g id="n62" class="nd" transform="translate(460.5,290)"><rect x="-14.6" y="-11.2" width="29.2" height="22.4" rx="2.5" fill="#399de5"/><text y="-6.1"><tspan x="0">gini = 0.0</tspan><tspan x="0" dy="5.05">samples = 3</tspan><tspan x="0" dy="5.05">value = [0, 3]</tspan><tspan x="0" dy="5.05">class = 1</tspan></text></g>
<g id="n63" class="nd" transform="translate(499,290)"><rect x="-19" y="-13.6" width="38" height="27.2" rx="2.5" fill="#eeae80"/><text y="-8.6"><tspan x="0">Mortgage ≤ 231.0</tspan><tspan x="0" dy="5.05">gini = 0.368</tspan><tspan x="0" dy="5.05">samples = 19</tspan><tspan x="0" dy="5.05">value = [14, 5]</tspan><tspan x="0" dy="5.05">class = 0</tspan></text></g>
<g id="n64" class="nd" transform="translate(544,290)"><rect x="-17" y="-13.6" width="34" height="27.2" rx="2.5" fill="#e68742"/><text y="-8.6"><tspan x="0">Income ≤ 108.5</tspan><tspan x="0" dy="5.05">gini = 0.083</tspan><tspan x="0" dy="5.05">samples = 23</tspan><tspan x="0" dy="5.05">value = [22, 1]</tspan><tspan x="0" dy="5.05">class = 0</tspan></text></g>
<g id="n65" class="nd" transform="translate(583,290)"><rect x="-14.6" y="-11.2" width="29.2" height="22.4" rx="2.5" fill="#399de5"/><text y="-6.1"><tspan x="0">gini = 0.0</tspan><tspan x="0" dy="5.05">samples = 3</tspan><tspan x="0" dy="5.05">value = [0, 3]</tspan><tspan x="0" dy="5.05">class = 1</tspan></text></g>
<g id="n66" class="nd" transform="translate(617,290)"><rect x="-14.6" y="-11.2" width="29.2" height="22.4" rx="2.5" fill="#e58139"/><text y="-6.1"><tspan x="0">gini = 0.0</tspan><tspan x="0" dy="5.05">samples = 1</tspan><tspan x="0" dy="5.05">value = [1, 0]</tspan><tspan x="0" dy="5.05">class = 0</tspan></text></g>
<g id="n67" class="nd" transform="translate(656,290)"><rect x="-15.8" y="-13.6" width="31.6" height="27.2" rx="2.5" fill="#57ace9"/><text y="-8.6"><tspan x="0">Income ≤ 99.5</tspan><tspan x="0" dy="5.05">gini = 0.231</tspan><tspan x="0" dy="5.05">samples = 15</tspan><tspan x="0" dy="5.05">value = [2, 13]</tspan><tspan x="0" dy="5.05">class = 1</tspan></text></g>
<g id="n68" class="nd" transform="translate(693.7,290)"><rect x="-17.85" y="-13.6" width="35.7" height="27.2" rx="2.5" fill="#ffffff"/><text y="-8.6"><tspan x="0">Mortgage ≤ 59.5</tspan><tspan x="0" dy="5.05">gini = 0.5</tspan><tspan x="0" dy="5.05">samples = 10</tspan><tspan x="0" dy="5.05">value = [5, 5]</tspan><tspan x="0" dy="5.05">class = 0</tspan></text></g>
<g id="n69" class="nd" transform="translate(731,290)"><rect x="-14.6" y="-11.2" width="29.2" height="22.4" rx="2.5" fill="#e58139"/><text y="-6.1"><tspan x="0">gini = 0.0</tspan><tspan x="0" dy="5.05">samples = 4</tspan><tspan x="0" dy="5.05">value = [4, 0]</tspan><tspan x="0" dy="5.05">class = 0</tspan></text></g>
<g id="n70" class="nd" transform="translate(765,290)"><rect x="-14.6" y="-11.2" width="29.2" height="22.4" rx="2.5" fill="#399de5"/><text y="-6.1"><tspan x="0">gini = 0.0</tspan><tspan x="0" dy="5.05">samples = 1</tspan><tspan x="0" dy="5.05">value = [0, 1]</tspan><tspan x="0" dy="5.05">class = 1</tspan></text></g>
<g id="n71" class="nd" transform="translate(800,290)"><rect x="-14.6" y="-11.2" width="29.2" height="22.4" rx="2.5" fill="#399de5"/><text y="-6.1"><tspan x="0">gini = 0.0</tspan><tspan x="0" dy="5.05">samples = 3</tspan><tspan x="0" dy="5.05">value = [0, 3]</tspan><tspan x="0" dy="5.05">class = 1</tspan></text></g>
<g id="n72" class="nd" transform="translate(834,290)"><rect x="-14.6" y="-11.2" width="29.2" height="22.4" rx="2.5" fill="#e58139"/><text y="-6.1"><tspan x="0">gini = 0.0</tspan><tspan x="0" dy="5.05">samples = 1</tspan><tspan x="0" dy="5.05">value = [1, 0]</tspan><tspan x="0" dy="5.05">class = 0</tspan></text></g>
<g id="n73" class="nd" transform="translate(46.3,328)"><rect x="-19" y="-13.6" width="38" height="27.2" rx="2.5" fill="#e88e4d"/><text y="-8.6"><tspan x="0">Mortgage ≤ 164.5</tspan><tspan x="0" dy="5.05">gini = 0.165</tspan><tspan x="0" dy="5.05">samples = 22</tspan><tspan x="0" dy="5.05">value = [20, 2]</tspan><tspan x="0" dy="5.05">class = 0</tspan></text></g>
<g id="n74" class="nd" transform="translate(86,328)"><rect x="-14.6" y="-11.2" width="29.2" height="22.4" rx="2.5" fill="#399de5"/><text y="-6.1"><tspan x="0">gini = 0.0</tspan><tspan x="0" dy="5.05">samples = 2</tspan><tspan x="0" dy="5.05">value = [0, 2]</tspan><tspan x="0" dy="5.05">class = 1</tspan></text></g>
<g id="n75" class="nd" transform="translate(121,328)"><rect x="-15.8" y="-11.2" width="31.6" height="22.4" rx="2.5" fill="#e58139"/><text y="-6.1"><tspan x="0">gini = 0.0</tspan><tspan x="0" dy="5.05">samples = 42</tspan><tspan x="0" dy="5.05">value = [42, 0]</tspan><tspan x="0" dy="5.05">class = 0</tspan></text></g>
<g id="n76" class="nd" transform="translate(158,328)"><rect x="-15.8" y="-13.6" width="31.6" height="27.2" rx="2.5" fill="#e78945"/><text y="-8.6"><tspan x="0">Income ≤ 83.5</tspan><tspan x="0" dy="5.05">gini = 0.111</tspan><tspan x="0" dy="5.05">samples = 51</tspan><tspan x="0" dy="5.05">value = [48, 3]</tspan><tspan x="0" dy="5.05">class = 0</tspan></text></g>
<g id="n77" class="nd" transform="translate(194.7,328)"><rect x="-14.6" y="-11.2" width="29.2" height="22.4" rx="2.5" fill="#e58139"/><text y="-6.1"><tspan x="0">gini = 0.0</tspan><tspan x="0" dy="5.05">samples = 6</tspan><tspan x="0" dy="5.05">value = [6, 0]</tspan><tspan x="0" dy="5.05">class = 0</tspan></text></g>
<g id="n78" class="nd" transform="translate(231.5,328)"><rect x="-17.1" y="-13.6" width="34.2" height="27.2" rx="2.5" fill="#f2c09c"/><text y="-8.6"><tspan x="0">Education ≤ 2.5</tspan><tspan x="0" dy="5.05">gini = 0.444</tspan><tspan x="0" dy="5.05">samples = 3</tspan><tspan x="0" dy="5.05">value = [2, 1]</tspan><tspan x="0" dy="5.05">class = 0</tspan></text></g>
<g id="n79" class="nd" transform="translate(339.5,328)"><rect x="-14.6" y="-11.2" width="29.2" height="22.4" rx="2.5" fill="#399de5"/><text y="-6.1"><tspan x="0">gini = 0.0</tspan><tspan x="0" dy="5.05">samples = 1</tspan><tspan x="0" dy="5.05">value = [0, 1]</tspan><tspan x="0" dy="5.05">class = 1</tspan></text></g>
<g id="n80" class="nd" transform="translate(373.3,328)"><rect x="-14.6" y="-11.2" width="29.2" height="22.4" rx="2.5" fill="#e58139"/><text y="-6.1"><tspan x="0">gini = 0.0</tspan><tspan x="0" dy="5.05">samples = 3</tspan><tspan x="0" dy="5.05">value = [3, 0]</tspan><tspan x="0" dy="5.05">class = 0</tspan></text></g>
<g id="n81" class="nd" transform="translate(459.5,328)"><rect x="-19.5" y="-13.6" width="39" height="27.2" rx="2.5" fill="#eb9c63"/><text y="-8.6"><tspan x="0">Experience ≤ 13.0</tspan><tspan x="0" dy="5.05">gini = 0.291</tspan><tspan x="0" dy="5.05">samples = 17</tspan><tspan x="0" dy="5.05">value = [14, 3]</tspan><tspan x="0" dy="5.05">class = 0</tspan></text></g>
<g id="n82" class="nd" transform="translate(499,328)"><rect x="-14.6" y="-11.2" width="29.2" height="22.4" rx="2.5" fill="#399de5"/><text y="-6.1"><tspan x="0">gini = 0.0</tspan><tspan x="0" dy="5.05">samples = 2</tspan><tspan x="0" dy="5.05">value = [0, 2]</tspan><tspan x="0" dy="5.05">class = 1</tspan></text></g>
<g id="n83" class="nd" transform="translate(537.7,328)"><rect x="-19.5" y="-13.6" width="39" height="27.2" rx="2.5" fill="#ffffff"/><text y="-8.6"><tspan x="0">Experience ≤ 15.5</tspan><tspan x="0" dy="5.05">gini = 0.5</tspan><tspan x="0" dy="5.05">samples = 2</tspan><tspan x="0" dy="5.05">value = [1, 1]</tspan><tspan x="0" dy="5.05">class = 0</tspan></text></g>
<g id="n84" class="nd" transform="translate(579,328)"><rect x="-15.8" y="-11.2" width="31.6" height="22.4" rx="2.5" fill="#e58139"/><text y="-6.1"><tspan x="0">gini = 0.0</tspan><tspan x="0" dy="5.05">samples = 21</tspan><tspan x="0" dy="5.05">value = [21, 0]</tspan><tspan x="0" dy="5.05">class = 0</tspan></text></g>
<g id="n85" class="nd" transform="translate(615,328)"><rect x="-14.6" y="-13.6" width="29.2" height="27.2" rx="2.5" fill="#ffffff"/><text y="-8.6"><tspan x="0">Family ≤ 2.5</tspan><tspan x="0" dy="5.05">gini = 0.5</tspan><tspan x="0" dy="5.05">samples = 2</tspan><tspan x="0" dy="5.05">value = [1, 1]</tspan><tspan x="0" dy="5.05">class = 0</tspan></text></g>
<g id="n86" class="nd" transform="translate(654,328)"><rect x="-19.5" y="-13.6" width="39" height="27.2" rx="2.5" fill="#49a5e7"/><text y="-8.6"><tspan x="0">Experience ≤ 36.5</tspan><tspan x="0" dy="5.05">gini = 0.142</tspan><tspan x="0" dy="5.05">samples = 13</tspan><tspan x="0" dy="5.05">value = [1, 12]</tspan><tspan x="0" dy="5.05">class = 1</tspan></text></g>
<g id="n87" class="nd" transform="translate(713.8,328)"><rect x="-19.5" y="-13.6" width="39" height="27.2" rx="2.5" fill="#efb388"/><text y="-8.6"><tspan x="0">Experience ≤ 10.5</tspan><tspan x="0" dy="5.05">gini = 0.408</tspan><tspan x="0" dy="5.05">samples = 7</tspan><tspan x="0" dy="5.05">value = [5, 2]</tspan><tspan x="0" dy="5.05">class = 0</tspan></text></g>
<g id="n88" class="nd" transform="translate(753.3,328)"><rect x="-14.6" y="-11.2" width="29.2" height="22.4" rx="2.5" fill="#399de5"/><text y="-6.1"><tspan x="0">gini = 0.0</tspan><tspan x="0" dy="5.05">samples = 3</tspan><tspan x="0" dy="5.05">value = [0, 3]</tspan><tspan x="0" dy="5.05">class = 1</tspan></text></g>
<g id="n89" class="nd" transform="translate(27,365.5)"><rect x="-15.8" y="-11.2" width="31.6" height="22.4" rx="2.5" fill="#e58139"/><text y="-6.1"><tspan x="0">gini = 0.0</tspan><tspan x="0" dy="5.05">samples = 19</tspan><tspan x="0" dy="5.05">value = [19, 0]</tspan><tspan x="0" dy="5.05">class = 0</tspan></text></g>
<g id="n90" class="nd" transform="translate(68,365.5)"><rect x="-19" y="-13.6" width="38" height="27.2" rx="2.5" fill="#9ccef2"/><text y="-8.6"><tspan x="0">Mortgage ≤ 249.5</tspan><tspan x="0" dy="5.05">gini = 0.444</tspan><tspan x="0" dy="5.05">samples = 3</tspan><tspan x="0" dy="5.05">value = [1, 2]</tspan><tspan x="0" dy="5.05">class = 1</tspan></text></g>
<g id="n91" class="nd" transform="translate(148,365.5)"><rect x="-15.8" y="-13.6" width="31.6" height="27.2" rx="2.5" fill="#e89153"/><text y="-8.6"><tspan x="0">Age ≤ 33.0</tspan><tspan x="0" dy="5.05">gini = 0.204</tspan><tspan x="0" dy="5.05">samples = 26</tspan><tspan x="0" dy="5.05">value = [23, 3]</tspan><tspan x="0" dy="5.05">class = 0</tspan></text></g>
<g id="n92" class="nd" transform="translate(185,365.5)"><rect x="-15.8" y="-11.2" width="31.6" height="22.4" rx="2.5" fill="#e58139"/><text y="-6.1"><tspan x="0">gini = 0.0</tspan><tspan x="0" dy="5.05">samples = 25</tspan><tspan x="0" dy="5.05">value = [25, 0]</tspan><tspan x="0" dy="5.05">class = 0</tspan></text></g>
<g id="n93" class="nd" transform="translate(225.5,365.5)"><rect x="-14.6" y="-11.2" width="29.2" height="22.4" rx="2.5" fill="#399de5"/><text y="-6.1"><tspan x="0">gini = 0.0</tspan><tspan x="0" dy="5.05">samples = 1</tspan><tspan x="0" dy="5.05">value = [0, 1]</tspan><tspan x="0" dy="5.05">class = 1</tspan></text></g>
<g id="n94" class="nd" transform="translate(260,365.5)"><rect x="-14.6" y="-11.2" width="29.2" height="22.4" rx="2.5" fill="#e58139"/><text y="-6.1"><tspan x="0">gini = 0.0</tspan><tspan x="0" dy="5.05">samples = 2</tspan><tspan x="0" dy="5.05">value = [2, 0]</tspan><tspan x="0" dy="5.05">class = 0</tspan></text></g>
<g id="n95" class="nd" transform="translate(428.3,365.5)"><rect x="-15.6" y="-13.6" width="31.2" height="27.2" rx="2.5" fill="#ffffff"/><text y="-8.6"><tspan x="0">CCAvg ≤ 1.55</tspan><tspan x="0" dy="5.05">gini = 0.5</tspan><tspan x="0" dy="5.05">samples = 6</tspan><tspan x="0" dy="5.05">value = [3, 3]</tspan><tspan x="0" dy="5.05">class = 0</tspan></text></g>
<g id="n96" class="nd" transform="translate(466,365.5)"><rect x="-15.8" y="-11.2" width="31.6" height="22.4" rx="2.5" fill="#e58139"/><text y="-6.1"><tspan x="0">gini = 0.0</tspan><tspan x="0" dy="5.05">samples = 11</tspan><tspan x="0" dy="5.05">value = [11, 0]</tspan><tspan x="0" dy="5.05">class = 0</tspan></text></g>
<g id="n97" class="nd" transform="translate(506,365.5)"><rect x="-14.6" y="-11.2" width="29.2" height="22.4" rx="2.5" fill="#e58139"/><text y="-6.1"><tspan x="0">gini = 0.0</tspan><tspan x="0" dy="5.05">samples = 1</tspan><tspan x="0" dy="5.05">value = [1, 0]</tspan><tspan x="0" dy="5.05">class = 0</tspan></text></g>
<g id="n98" class="nd" transform="translate(540.5,365.5)"><rect x="-14.6" y="-11.2" width="29.2" height="22.4" rx="2.5" fill="#399de5"/><text y="-6.1"><tspan x="0">gini = 0.0</tspan><tspan x="0" dy="5.05">samples = 1</tspan><tspan x="0" dy="5.05">value = [0, 1]</tspan><tspan x="0" dy="5.05">class = 1</tspan></text></g>
<g id="n99" class="nd" transform="translate(578.7,365.5)"><rect x="-14.6" y="-11.2" width="29.2" height="22.4" rx="2.5" fill="#e58139"/><text y="-6.1"><tspan x="0">gini = 0.0</tspan><tspan x="0" dy="5.05">samples = 1</tspan><tspan x="0" dy="5.05">value = [1, 0]</tspan><tspan x="0" dy="5.05">class = 0</tspan></text></g>
<g id="n100" class="nd" transform="translate(613,365.5)"><rect x="-14.6" y="-11.2" width="29.2" height="22.4" rx="2.5" fill="#399de5"/><text y="-6.1"><tspan x="0">gini = 0.0</tspan><tspan x="0" dy="5.05">samples = 1</tspan><tspan x="0" dy="5.05">value = [0, 1]</tspan><tspan x="0" dy="5.05">class = 1</tspan></text></g>
<g id="n101" class="nd" transform="translate(648,365.5)"><rect x="-15.8" y="-11.2" width="31.6" height="22.4" rx="2.5" fill="#399de5"/><text y="-6.1"><tspan x="0">gini = 0.0</tspan><tspan x="0" dy="5.05">samples = 10</tspan><tspan x="0" dy="5.05">value = [0, 10]</tspan><tspan x="0" dy="5.05">class = 1</tspan></text></g>
<g id="n102" class="nd" transform="translate(688.8,365.5)"><rect x="-19.5" y="-13.6" width="39" height="27.2" rx="2.5" fill="#9ccef2"/><text y="-8.6"><tspan x="0">Experience ≤ 38.5</tspan><tspan x="0" dy="5.05">gini = 0.444</tspan><tspan x="0" dy="5.05">samples = 3</tspan><tspan x="0" dy="5.05">value = [1, 2]</tspan><tspan x="0" dy="5.05">class = 1</tspan></text></g>
<g id="n103" class="nd" transform="translate(728.3,365.5)"><rect x="-14.6" y="-11.2" width="29.2" height="22.4" rx="2.5" fill="#399de5"/><text y="-6.1"><tspan x="0">gini = 0.0</tspan><tspan x="0" dy="5.05">samples = 1</tspan><tspan x="0" dy="5.05">value = [0, 1]</tspan><tspan x="0" dy="5.05">class = 1</tspan></text></g>
<g id="n104" class="nd" transform="translate(765.5,365.5)"><rect x="-17" y="-13.6" width="34" height="27.2" rx="2.5" fill="#ea9a61"/><text y="-8.6"><tspan x="0">Income ≤ 109.5</tspan><tspan x="0" dy="5.05">gini = 0.278</tspan><tspan x="0" dy="5.05">samples = 6</tspan><tspan x="0" dy="5.05">value = [5, 1]</tspan><tspan x="0" dy="5.05">class = 0</tspan></text></g>
<g id="n105" class="nd" transform="translate(50,401.5)"><rect x="-14.6" y="-11.2" width="29.2" height="22.4" rx="2.5" fill="#399de5"/><text y="-6.1"><tspan x="0">gini = 0.0</tspan><tspan x="0" dy="5.05">samples = 2</tspan><tspan x="0" dy="5.05">value = [0, 2]</tspan><tspan x="0" dy="5.05">class = 1</tspan></text></g>
<g id="n106" class="nd" transform="translate(84.5,401.5)"><rect x="-14.6" y="-11.2" width="29.2" height="22.4" rx="2.5" fill="#e58139"/><text y="-6.1"><tspan x="0">gini = 0.0</tspan><tspan x="0" dy="5.05">samples = 1</tspan><tspan x="0" dy="5.05">value = [1, 0]</tspan><tspan x="0" dy="5.05">class = 0</tspan></text></g>
<g id="n107" class="nd" transform="translate(146.3,401.5)"><rect x="-14.6" y="-11.2" width="29.2" height="22.4" rx="2.5" fill="#ffffff"/><text y="-6.1"><tspan x="0">gini = 0.5</tspan><tspan x="0" dy="5.05">samples = 2</tspan><tspan x="0" dy="5.05">value = [1, 1]</tspan><tspan x="0" dy="5.05">class = 0</tspan></text></g>
<g id="n108" class="nd" transform="translate(182,401.5)"><rect x="-15.8" y="-11.2" width="31.6" height="22.4" rx="2.5" fill="#e78c4b"/><text y="-6.1"><tspan x="0">gini = 0.153</tspan><tspan x="0" dy="5.05">samples = 24</tspan><tspan x="0" dy="5.05">value = [22, 2]</tspan><tspan x="0" dy="5.05">class = 0</tspan></text></g>
<g id="n109" class="nd" transform="translate(404,401.5)"><rect x="-14.6" y="-11.2" width="29.2" height="22.4" rx="2.5" fill="#eeab7b"/><text y="-6.1"><tspan x="0">gini = 0.375</tspan><tspan x="0" dy="5.05">samples = 4</tspan><tspan x="0" dy="5.05">value = [3, 1]</tspan><tspan x="0" dy="5.05">class = 0</tspan></text></g>
<g id="n110" class="nd" transform="translate(446,401.5)"><rect x="-14.6" y="-11.2" width="29.2" height="22.4" rx="2.5" fill="#399de5"/><text y="-6.1"><tspan x="0">gini = 0.0</tspan><tspan x="0" dy="5.05">samples = 2</tspan><tspan x="0" dy="5.05">value = [0, 2]</tspan><tspan x="0" dy="5.05">class = 1</tspan></text></g>
<g id="n111" class="nd" transform="translate(658.3,401.5)"><rect x="-14.6" y="-11.2" width="29.2" height="22.4" rx="2.5" fill="#e58139"/><text y="-6.1"><tspan x="0">gini = 0.0</tspan><tspan x="0" dy="5.05">samples = 1</tspan><tspan x="0" dy="5.05">value = [1, 0]</tspan><tspan x="0" dy="5.05">class = 0</tspan></text></g>
<g id="n112" class="nd" transform="translate(693,401.5)"><rect x="-14.6" y="-11.2" width="29.2" height="22.4" rx="2.5" fill="#399de5"/><text y="-6.1"><tspan x="0">gini = 0.0</tspan><tspan x="0" dy="5.05">samples = 2</tspan><tspan x="0" dy="5.05">value = [0, 2]</tspan><tspan x="0" dy="5.05">class = 1</tspan></text></g>
<g id="n113" class="nd" transform="translate(749,401.5)"><rect x="-14.6" y="-11.2" width="29.2" height="22.4" rx="2.5" fill="#e58139"/><text y="-6.1"><tspan x="0">gini = 0.0</tspan><tspan x="0" dy="5.05">samples = 4</tspan><tspan x="0" dy="5.05">value = [4, 0]</tspan><tspan x="0" dy="5.05">class = 0</tspan></text></g>
<g id="n114" class="nd" transform="translate(782.5,401.5)"><rect x="-14.6" y="-11.2" width="29.2" height="22.4" rx="2.5" fill="#ffffff"/><text y="-6.1"><tspan x="0">gini = 0.5</tspan><tspan x="0" dy="5.05">samples = 2</tspan><tspan x="0" dy="5.05">value = [1, 1]</tspan><tspan x="0" dy="5.05">class = 0</tspan></text></g>
</g>
<text class="wm" x="735" y="416">CSDN @马龙强_</text>
</svg>
